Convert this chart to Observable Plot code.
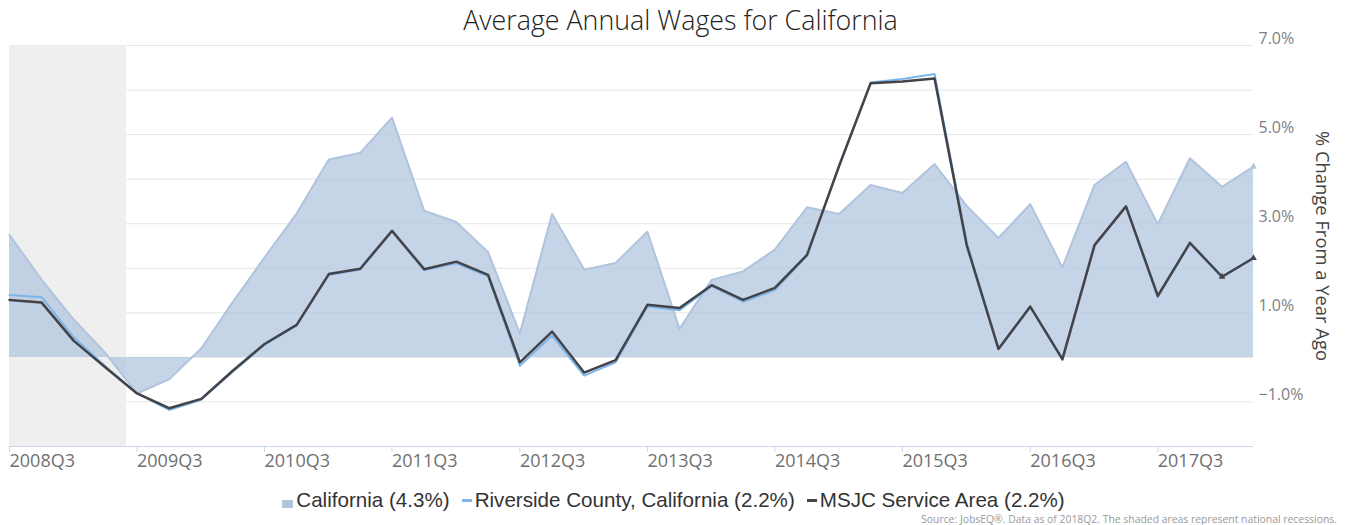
<!DOCTYPE html>
<html><head><meta charset="utf-8">
<script src="https://cdn.jsdelivr.net/npm/d3@7"></script>
<script src="https://cdn.jsdelivr.net/npm/@observablehq/plot@0.6"></script>
<style>
html,body{margin:0;padding:0;background:#fff;}
#wrap{position:relative;width:1361px;height:525px;overflow:hidden;background:#fff;}
#title{position:absolute;left:0;top:2px;width:1361px;text-align:center;font-family:"Open Sans";font-weight:300;font-size:26.8px;line-height:36px;color:#222;white-space:nowrap;}
#chart{position:absolute;left:0;top:30px;}
#legend{position:absolute;left:0;top:488px;width:1347px;display:flex;justify-content:center;align-items:center;font-family:"Liberation Sans",Arial,sans-serif;font-size:20.6px;line-height:24px;color:#333;white-space:nowrap;}
#legend .item{display:flex;align-items:center;margin:0 6px;}
#legend .sym{display:inline-block;margin-right:3px;}
#source{position:absolute;right:24px;top:513px;font-family:"Open Sans";font-size:10.4px;line-height:12px;color:#999;white-space:nowrap;}
</style>
</head><body>
<div id="wrap">
  <div id="title"></div>
  <div id="chart"></div>
  <div id="legend"></div>
  <div id="source"></div>
</div>
<script>
const titleText = "Average Annual Wages for California";
const yLabel = "% Change From a Year Ago";
const sourceText = "Source: JobsEQ®. Data as of 2018Q2. The shaded areas represent national recessions.";

const quarters = ["2008Q3","2008Q4",
  "2009Q1","2009Q2","2009Q3","2009Q4",
  "2010Q1","2010Q2","2010Q3","2010Q4",
  "2011Q1","2011Q2","2011Q3","2011Q4",
  "2012Q1","2012Q2","2012Q3","2012Q4",
  "2013Q1","2013Q2","2013Q3","2013Q4",
  "2014Q1","2014Q2","2014Q3","2014Q4",
  "2015Q1","2015Q2","2015Q3","2015Q4",
  "2016Q1","2016Q2","2016Q3","2016Q4",
  "2017Q1","2017Q2","2017Q3","2017Q4",
  "2018Q1","2018Q2"];

const california = [2.75, 1.74,
  0.85, 0.10, -0.81, -0.49,
  0.20, 1.24, 2.24, 3.23,
  4.44, 4.59, 5.38, 3.29,
  3.04, 2.36, 0.54, 3.22,
  1.97, 2.12, 2.82, 0.64,
  1.74, 1.93, 2.42, 3.37,
  3.22, 3.87, 3.69, 4.34,
  3.40, 2.68, 3.44, 2.02,
  3.87, 4.39, 2.99, 4.47,
  3.83, 4.28];

const riverside = [1.40, 1.35,
  0.45, -0.20, -0.81, -1.18,
  -0.95, -0.32, 0.28, 0.72,
  1.85, 1.97, 2.84, 1.96,
  2.11, 1.82, -0.19, 0.49,
  -0.41, -0.11, 1.14, 1.06,
  1.60, 1.25, 1.51, 2.28,
  4.32, 6.17, 6.25, 6.36,
  2.58, 0.19, 1.13, -0.06,
  2.52, 3.38, 1.35, 2.56,
  1.80, 2.22];

const msjc = [1.29, 1.23,
  0.37, -0.22, -0.81, -1.14,
  -0.93, -0.30, 0.30, 0.73,
  1.87, 1.99, 2.84, 1.98,
  2.15, 1.85, -0.11, 0.58,
  -0.34, -0.06, 1.18, 1.11,
  1.62, 1.29, 1.56, 2.30,
  4.30, 6.15, 6.19, 6.26,
  2.52, 0.19, 1.14, -0.04,
  2.52, 3.39, 1.38, 2.57,
  1.81, 2.23];

const seriesNames = ["California", "Riverside County, California", "MSJC Service Area"];
const xTickLabels = ["2008Q3","2009Q3","2010Q3","2011Q3","2012Q3","2013Q3","2014Q3","2015Q3","2016Q3","2017Q3"];
const yTickValues = [-1, 1, 3, 5, 7];
const yGridValues = [-1, 0, 1, 2, 3, 4, 5, 6, 7];
const recessions = [{start: "2007-12-01", end: "2009-06-01"}];

const colors = {area: "#b0c4de", riverside: "#7cb5ec", msjc: "#434348"};

function qDate(q) {
  const y = +q.slice(0, 4), n = +q.slice(5);
  return new Date(Date.UTC(y, (n - 1) * 3, 1));
}
function qLabel(d) {
  return d.getUTCFullYear() + "Q" + (Math.floor(d.getUTCMonth() / 3) + 1);
}

const data = quarters.map((q, i) => ({date: qDate(q), q, california: california[i], riverside: riverside[i], msjc: msjc[i]}));
const recData = recessions.map(r => ({start: new Date(r.start + "T00:00:00Z"), end: new Date(r.end + "T00:00:00Z")}));
const last = data.slice(-2);

document.getElementById("title").textContent = titleText;
document.getElementById("source").textContent = sourceText;

const chart = Plot.plot({
  width: 1361,
  height: 450,
  marginLeft: 9,
  marginRight: 108,
  marginTop: 15,
  marginBottom: 34,
  style: {fontFamily: "'Open Sans', sans-serif", fontSize: "16px", background: "transparent", overflow: "visible"},
  x: {type: "utc", domain: [qDate(quarters[0]), qDate(quarters[quarters.length - 1])]},
  y: {domain: [-2, 7]},
  marks: [
    Plot.ruleY(yGridValues, {stroke: "#e6e6e6", strokeWidth: 1}),
    Plot.rect(recData, {x1: "start", x2: "end", fill: "#efefef", clip: true}),
    Plot.areaY(data, {x: "date", y: "california", fill: colors.area, fillOpacity: 0.72}),
    Plot.lineY(data, {x: "date", y: "california", stroke: colors.area, strokeWidth: 2}),
    Plot.lineY(data, {x: "date", y: "riverside", stroke: colors.riverside, strokeWidth: 2}),
    Plot.lineY(data, {x: "date", y: "msjc", stroke: colors.msjc, strokeWidth: 2.5}),
    Plot.dot(last, {x: "date", y: "msjc", symbol: "triangle", r: 2.5, fill: colors.msjc}),
    Plot.dot(last.slice(-1), {x: "date", y: "california", symbol: "triangle", r: 2.5, fill: colors.area}),
    Plot.ruleY([-2], {stroke: "#ccd6eb", strokeWidth: 1}),
    Plot.axisX({
      ticks: xTickLabels.map(qDate),
      tickFormat: qLabel,
      textAnchor: "start",
      tickSize: 6,
      tickPadding: 2,
      stroke: "#ccd6eb",
      fill: "#707070",
      fontSize: 18,
      label: null
    }),
    Plot.axisY({
      anchor: "right",
      ticks: yTickValues,
      tickSize: 0,
      tickPadding: 5,
      dy: -7,
      tickFormat: d => d3.format(".1f")(d) + "%",
      fill: "#808080",
      fontSize: 16,
      label: null
    }),
    Plot.text([yLabel], {text: d => d, frameAnchor: "right", textAnchor: "middle", lineAnchor: "middle", rotate: 90, dx: 68, fontSize: 18.4, fill: "#444"})
  ]
});
document.getElementById("chart").appendChild(chart);

// Legend
const lastVals = [california, riverside, msjc].map(a => a[a.length - 1]);
const legend = document.getElementById("legend");
seriesNames.forEach((name, i) => {
  const item = document.createElement("span");
  item.className = "item";
  const sym = document.createElement("span");
  sym.className = "sym";
  if (i === 0) {
    sym.style.cssText = "width:11px;height:8px;background:" + colors.area + ";margin-top:8px;";
  } else {
    sym.style.cssText = "width:10px;height:3px;background:" + (i === 1 ? colors.riverside : colors.msjc) + ";";
  }
  item.appendChild(sym);
  item.appendChild(document.createTextNode(name + " (" + d3.format(".1f")(lastVals[i]) + "%)"));
  legend.appendChild(item);
});
</script>
</body></html>
